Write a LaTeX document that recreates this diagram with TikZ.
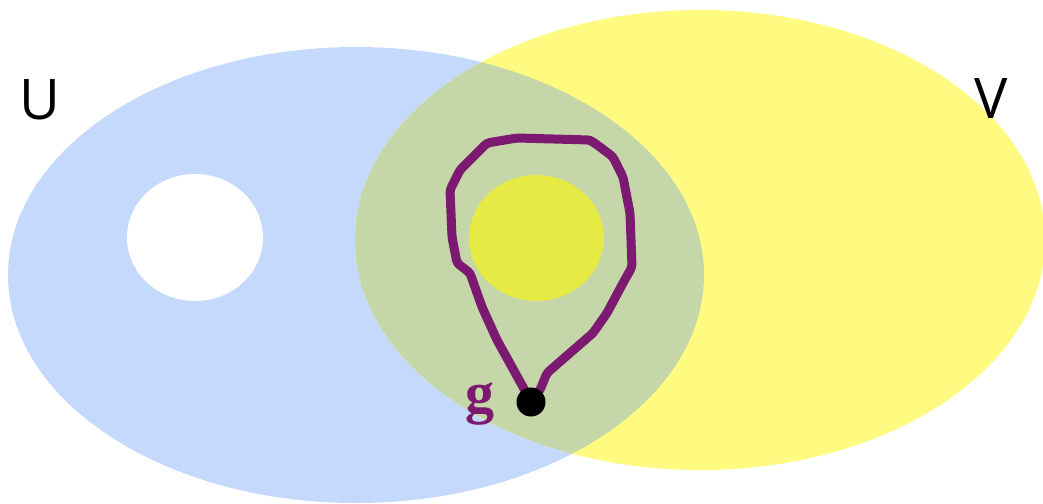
\documentclass[tikz,border=0pt]{standalone}
\usepackage{fontspec}
\newfontfamily\labelsans{Open Sans}
\newfontfamily\labelserif{Liberation Serif}
\definecolor{setblue}{HTML}{C5D9FD}
\definecolor{setyellow}{HTML}{FFFB80}
\definecolor{setgreen}{HTML}{C5D6A8}
\definecolor{holeyellow}{HTML}{E5EA45}
\definecolor{looppurple}{HTML}{7B1A70}
\tikzset{
  setlabel/.style={font=\labelsans\fontsize{56}{60}\selectfont, text=black, inner sep=0pt},
  ptlabel/.style={font=\labelserif\bfseries\fontsize{58}{60}\selectfont, text=looppurple, inner sep=0pt},
  loopline/.style={draw=looppurple, line width=9pt, line join=round, line cap=round, rounded corners=3pt},
}
\begin{document}
\begin{tikzpicture}[x=1pt,y=-1pt]
\useasboundingbox (0,0) rectangle (1043,503);
\fill[white] (0,0) rectangle (1043,503);
% sets
\fill[setblue] (356,275) ellipse [x radius=348, y radius=228];
\fill[setyellow] (700,240) ellipse [x radius=345, y radius=230];
\begin{scope}
  \clip (356,275) ellipse [x radius=348, y radius=228];
  \fill[setgreen] (700,240) ellipse [x radius=345, y radius=230];
\end{scope}
% holes
\fill[white] (195,237.5) ellipse [x radius=68, y radius=63.5];
\fill[holeyellow] (536.5,238) ellipse [x radius=67.5, y radius=63];
% labels
\node[setlabel, anchor=base] (U) at (39.5,119) {U};
\node[setlabel, anchor=base] (V) at (991.5,118) {V};
% loop
\coordinate (g0) at (531,402);
\draw[loopline] (g0) -- (523,387) -- (497,340) -- (482,307) -- (470,273) -- (457,263)
  -- (452,237) -- (450,190) -- (460,170) -- (487,143) -- (517,138) -- (590,140)
  -- (600,147) -- (613,157) -- (623,177) -- (630,213) -- (632,267) -- (623,283)
  -- (607,313) -- (593,333) -- (570,353) -- (547,373) -- (540,390) -- (g0);
\node[circle, fill=black, minimum size=29pt, inner sep=0pt] (dot) at (g0) {};
\node[ptlabel, anchor=base] (glabel) at (480,412) {g};
\end{tikzpicture}
\end{document}
